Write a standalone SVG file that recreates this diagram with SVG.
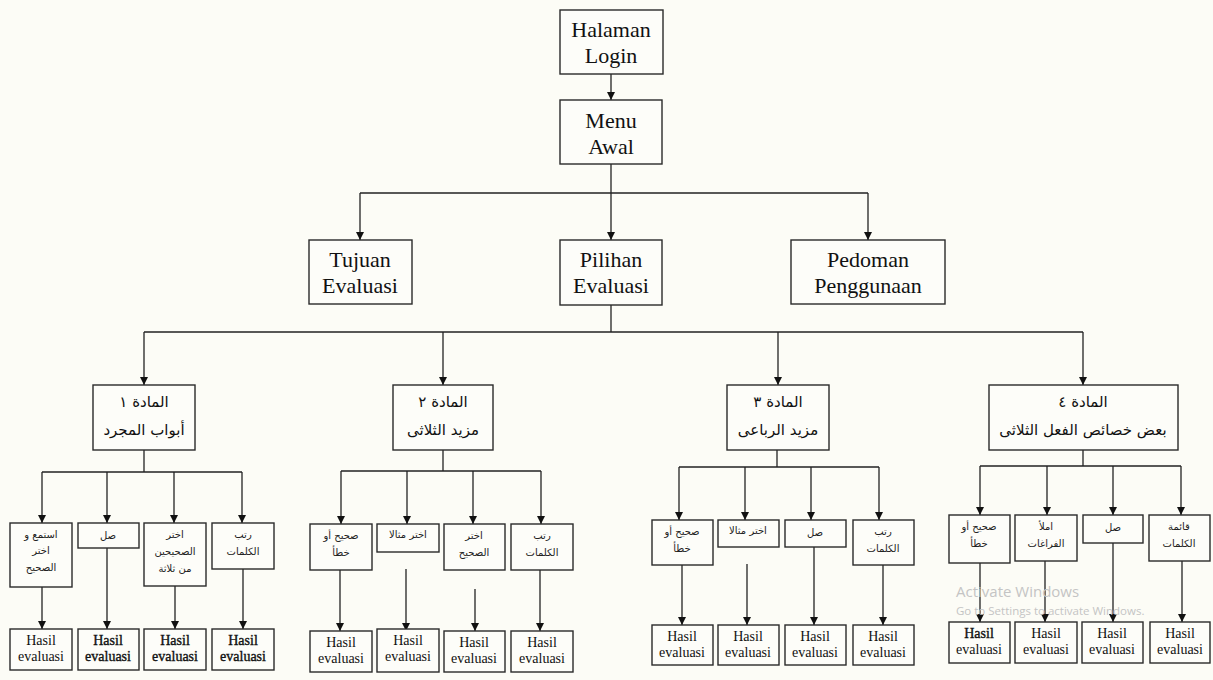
<svg xmlns="http://www.w3.org/2000/svg" width="1213" height="680" viewBox="0 0 1213 680">
  <defs>
    <marker id="ah" markerWidth="8" markerHeight="8" refX="8" refY="4" orient="auto" markerUnits="userSpaceOnUse">
      <path d="M0,0 L8,4 L0,8 z" fill="#111"/>
    </marker>
    <style>
      .bx { fill: #fdfdf9; stroke: #2a2a2a; stroke-width: 1.4; }
      .ln { fill: none; stroke: #222; stroke-width: 1.3; }
      .ar { fill: none; stroke: #222; stroke-width: 1.3; marker-end: url(#ah); }
      .t1 { font-family: "Liberation Serif", "Times New Roman", serif; font-size: 22px; fill: #111; text-anchor: middle; }
      .hs { font-family: "Liberation Serif", "Times New Roman", serif; font-size: 14px; fill: #111; text-anchor: middle; }
      .b { stroke: #111; stroke-width: 0.35; }
      .ah { font-family: "DejaVu Sans", "Noto Sans", sans-serif; font-size: 15px; fill: #111; text-anchor: middle; direction: rtl; }
      .as { font-family: "DejaVu Sans", "Noto Sans", sans-serif; font-size: 10px; fill: #222; text-anchor: middle; direction: rtl; }
      .wm { font-family: "Open Sans", "Noto Sans", sans-serif; fill: #c4c4c4; }
    </style>
  </defs>
  <rect x="0" y="0" width="1213" height="680" fill="#fcfcf6"/>

  <g id="connectors">
    <line class="ar" x1="611" y1="74" x2="611" y2="100"/>
    <line class="ln" x1="611" y1="164" x2="611" y2="193"/>
    <line class="ln" x1="360" y1="193" x2="868" y2="193"/>
    <line class="ar" x1="360" y1="193" x2="360" y2="240"/>
    <line class="ar" x1="611" y1="193" x2="611" y2="240"/>
    <line class="ar" x1="868" y1="193" x2="868" y2="240"/>
    <line class="ln" x1="611" y1="305" x2="611" y2="332"/>
    <line class="ln" x1="144" y1="332" x2="1083" y2="332"/>
    <line class="ar" x1="144" y1="332" x2="144" y2="385"/>
    <line class="ar" x1="443" y1="332" x2="443" y2="385"/>
    <line class="ar" x1="778" y1="332" x2="778" y2="385"/>
    <line class="ar" x1="1083" y1="332" x2="1083" y2="385"/>

    <line class="ln" x1="144" y1="450" x2="144" y2="472"/>
    <line class="ln" x1="42" y1="472" x2="242" y2="472"/>
    <line class="ar" x1="42" y1="472" x2="42" y2="523"/>
    <line class="ar" x1="107" y1="472" x2="107" y2="523"/>
    <line class="ar" x1="174" y1="472" x2="174" y2="523"/>
    <line class="ar" x1="242" y1="472" x2="242" y2="523"/>
    <line class="ar" x1="42" y1="587" x2="42" y2="629"/>
    <line class="ar" x1="107" y1="548" x2="107" y2="629"/>
    <line class="ar" x1="175" y1="586" x2="175" y2="629"/>
    <line class="ar" x1="243" y1="569" x2="243" y2="629"/>

    <line class="ln" x1="443" y1="450" x2="443" y2="471"/>
    <line class="ln" x1="341" y1="471" x2="541" y2="471"/>
    <line class="ar" x1="341" y1="471" x2="341" y2="524"/>
    <line class="ar" x1="407" y1="471" x2="407" y2="524"/>
    <line class="ar" x1="473" y1="471" x2="473" y2="524"/>
    <line class="ar" x1="541" y1="471" x2="541" y2="524"/>
    <line class="ar" x1="340" y1="570" x2="340" y2="631"/>
    <line class="ar" x1="406" y1="569" x2="406" y2="631"/>
    <line class="ar" x1="475" y1="589" x2="475" y2="631"/>
    <line class="ar" x1="540" y1="570" x2="540" y2="631"/>

    <line class="ln" x1="777" y1="450" x2="777" y2="467"/>
    <line class="ln" x1="679" y1="467" x2="879" y2="467"/>
    <line class="ar" x1="679" y1="467" x2="679" y2="520"/>
    <line class="ar" x1="745" y1="467" x2="745" y2="520"/>
    <line class="ar" x1="811" y1="467" x2="811" y2="520"/>
    <line class="ar" x1="879" y1="467" x2="879" y2="520"/>
    <line class="ar" x1="682" y1="565" x2="682" y2="625"/>
    <line class="ar" x1="747" y1="564" x2="747" y2="625"/>
    <line class="ar" x1="814" y1="547" x2="814" y2="625"/>
    <line class="ar" x1="883" y1="565" x2="883" y2="625"/>

    <line class="ln" x1="1083" y1="450" x2="1083" y2="466"/>
    <line class="ln" x1="980" y1="466" x2="1181" y2="466"/>
    <line class="ar" x1="980" y1="466" x2="980" y2="515"/>
    <line class="ar" x1="1047" y1="466" x2="1047" y2="515"/>
    <line class="ar" x1="1113" y1="466" x2="1113" y2="515"/>
    <line class="ar" x1="1181" y1="466" x2="1181" y2="515"/>
    <line class="ar" x1="980" y1="563" x2="980" y2="622"/>
    <line class="ar" x1="1045" y1="561" x2="1045" y2="622"/>
    <line class="ar" x1="1113" y1="543" x2="1113" y2="622"/>
    <line class="ar" x1="1182" y1="561" x2="1182" y2="622"/>
  </g>

  <g id="halaman-login">
    <rect class="bx" x="560" y="10" width="103" height="64"/>
    <text class="t1" x="611" y="37">Halaman</text>
    <text class="t1" x="611" y="63">Login</text>
  </g>
  <g id="menu-awal">
    <rect class="bx" x="560" y="100" width="102" height="64"/>
    <text class="t1" x="611" y="128">Menu</text>
    <text class="t1" x="611" y="154">Awal</text>
  </g>
  <g id="tujuan-evaluasi">
    <rect class="bx" x="309" y="240" width="103" height="64"/>
    <text class="t1" x="360" y="267">Tujuan</text>
    <text class="t1" x="360" y="293">Evaluasi</text>
  </g>
  <g id="pilihan-evaluasi">
    <rect class="bx" x="560" y="240" width="102" height="65"/>
    <text class="t1" x="611" y="267">Pilihan</text>
    <text class="t1" x="611" y="293">Evaluasi</text>
  </g>
  <g id="pedoman-penggunaan">
    <rect class="bx" x="791" y="240" width="154" height="64"/>
    <text class="t1" x="868" y="267">Pedoman</text>
    <text class="t1" x="868" y="293">Penggunaan</text>
  </g>

  <g id="materi-1">
    <rect class="bx" x="93" y="385" width="102" height="65"/>
    <text class="ah" x="144" y="407">المادة ١</text>
    <text class="ah" x="144" y="435">أبواب المجرد</text>
  </g>
  <g id="materi-2">
    <rect class="bx" x="393" y="385" width="100" height="65"/>
    <text class="ah" x="443" y="407">المادة ٢</text>
    <text class="ah" x="443" y="435">مزيد الثلاثى</text>
  </g>
  <g id="materi-3">
    <rect class="bx" x="727" y="385" width="102" height="65"/>
    <text class="ah" x="778" y="407">المادة ٣</text>
    <text class="ah" x="778" y="435">مزيد الرباعى</text>
  </g>
  <g id="materi-4">
    <rect class="bx" x="989" y="385" width="189" height="65"/>
    <text class="ah" x="1083" y="407">المادة ٤</text>
    <text class="ah" x="1083" y="435">بعض خصائص الفعل الثلاثى</text>
  </g>

  <g id="s1-c1">
    <rect class="bx" x="10" y="523" width="62" height="64"/>
    <text class="as" x="41" y="538">استمع و</text>
    <text class="as" x="41" y="554">اختر</text>
    <text class="as" x="41" y="571">الصحيح</text>
  </g>
  <g id="s1-c2">
    <rect class="bx" x="78" y="523" width="61" height="25"/>
    <text class="as" x="108" y="539">صل</text>
  </g>
  <g id="s1-c3">
    <rect class="bx" x="144" y="523" width="62" height="63"/>
    <text class="as" x="175" y="538">اختر</text>
    <text class="as" x="175" y="555">الصحيحين</text>
    <text class="as" x="175" y="572">من ثلاثة</text>
  </g>
  <g id="s1-c4">
    <rect class="bx" x="212" y="523" width="62" height="46"/>
    <text class="as" x="243" y="538">رتب</text>
    <text class="as" x="243" y="555">الكلمات</text>
  </g>

  <g id="s2-c1">
    <rect class="bx" x="310" y="524" width="62" height="46"/>
    <text class="as" x="341" y="539">صحيح أو</text>
    <text class="as" x="341" y="556">خطأ</text>
  </g>
  <g id="s2-c2">
    <rect class="bx" x="377" y="524" width="62" height="28"/>
    <text class="as" x="408" y="538">اختر مثالا</text>
  </g>
  <g id="s2-c3">
    <rect class="bx" x="444" y="524" width="61" height="46"/>
    <text class="as" x="474" y="539">اختر</text>
    <text class="as" x="474" y="556">الصحيح</text>
  </g>
  <g id="s2-c4">
    <rect class="bx" x="511" y="524" width="62" height="46"/>
    <text class="as" x="542" y="539">رتب</text>
    <text class="as" x="542" y="556">الكلمات</text>
  </g>

  <g id="s3-c1">
    <rect class="bx" x="652" y="520" width="61" height="45"/>
    <text class="as" x="682" y="535">صحيح أو</text>
    <text class="as" x="682" y="552">خطأ</text>
  </g>
  <g id="s3-c2">
    <rect class="bx" x="718" y="520" width="61" height="27"/>
    <text class="as" x="748" y="534">اختر مثالا</text>
  </g>
  <g id="s3-c3">
    <rect class="bx" x="785" y="520" width="61" height="27"/>
    <text class="as" x="815" y="536">صل</text>
  </g>
  <g id="s3-c4">
    <rect class="bx" x="853" y="520" width="61" height="45"/>
    <text class="as" x="883" y="535">رتب</text>
    <text class="as" x="883" y="552">الكلمات</text>
  </g>

  <g id="s4-c1">
    <rect class="bx" x="949" y="515" width="61" height="48"/>
    <text class="as" x="979" y="530">صحيح أو</text>
    <text class="as" x="979" y="547">خطأ</text>
  </g>
  <g id="s4-c2">
    <rect class="bx" x="1015" y="515" width="62" height="46"/>
    <text class="as" x="1046" y="530">املأ</text>
    <text class="as" x="1046" y="547">الفراغات</text>
  </g>
  <g id="s4-c3">
    <rect class="bx" x="1083" y="515" width="60" height="28"/>
    <text class="as" x="1113" y="531">صل</text>
  </g>
  <g id="s4-c4">
    <rect class="bx" x="1149" y="515" width="61" height="46"/>
    <text class="as" x="1179" y="530">قائمة</text>
    <text class="as" x="1179" y="547">الكلمات</text>
  </g>

  <g id="s1-h1"><rect class="bx" x="10" y="629" width="62" height="41"/><text class="hs" x="41" y="645">Hasil</text><text class="hs" x="41" y="661">evaluasi</text></g>
  <g id="s1-h2"><rect class="bx" x="78" y="629" width="61" height="41"/><text class="hs b" x="108" y="645">Hasil</text><text class="hs b" x="108" y="661">evaluasi</text></g>
  <g id="s1-h3"><rect class="bx" x="144" y="629" width="62" height="41"/><text class="hs b" x="175" y="645">Hasil</text><text class="hs b" x="175" y="661">evaluasi</text></g>
  <g id="s1-h4"><rect class="bx" x="212" y="629" width="62" height="41"/><text class="hs b" x="243" y="645">Hasil</text><text class="hs b" x="243" y="661">evaluasi</text></g>

  <g id="s2-h1"><rect class="bx" x="310" y="631" width="62" height="41"/><text class="hs" x="341" y="647">Hasil</text><text class="hs" x="341" y="663">evaluasi</text></g>
  <g id="s2-h2"><rect class="bx" x="377" y="629" width="62" height="43"/><text class="hs" x="408" y="645">Hasil</text><text class="hs" x="408" y="661">evaluasi</text></g>
  <g id="s2-h3"><rect class="bx" x="444" y="631" width="61" height="41"/><text class="hs" x="474" y="647">Hasil</text><text class="hs" x="474" y="663">evaluasi</text></g>
  <g id="s2-h4"><rect class="bx" x="511" y="631" width="62" height="41"/><text class="hs" x="542" y="647">Hasil</text><text class="hs" x="542" y="663">evaluasi</text></g>

  <g id="s3-h1"><rect class="bx" x="652" y="625" width="61" height="40"/><text class="hs" x="682" y="641">Hasil</text><text class="hs" x="682" y="657">evaluasi</text></g>
  <g id="s3-h2"><rect class="bx" x="718" y="625" width="61" height="40"/><text class="hs" x="748" y="641">Hasil</text><text class="hs" x="748" y="657">evaluasi</text></g>
  <g id="s3-h3"><rect class="bx" x="785" y="625" width="61" height="40"/><text class="hs" x="815" y="641">Hasil</text><text class="hs" x="815" y="657">evaluasi</text></g>
  <g id="s3-h4"><rect class="bx" x="853" y="625" width="61" height="40"/><text class="hs" x="883" y="641">Hasil</text><text class="hs" x="883" y="657">evaluasi</text></g>

  <g id="s4-h1"><rect class="bx" x="949" y="622" width="61" height="41"/><text class="hs b" x="979" y="638">Hasil</text><text class="hs" x="979" y="654">evaluasi</text></g>
  <g id="s4-h2"><rect class="bx" x="1015" y="622" width="62" height="41"/><text class="hs" x="1046" y="638">Hasil</text><text class="hs" x="1046" y="654">evaluasi</text></g>
  <g id="s4-h3"><rect class="bx" x="1082" y="622" width="61" height="41"/><text class="hs" x="1112" y="638">Hasil</text><text class="hs" x="1112" y="654">evaluasi</text></g>
  <g id="s4-h4"><rect class="bx" x="1150" y="622" width="60" height="41"/><text class="hs" x="1180" y="638">Hasil</text><text class="hs" x="1180" y="654">evaluasi</text></g>

  <g id="watermark">
    <text class="wm" x="956" y="597" font-size="15">Activate Windows</text>
    <text class="wm" x="956" y="615" font-size="11.5">Go to Settings to activate Windows.</text>
  </g>
</svg>
